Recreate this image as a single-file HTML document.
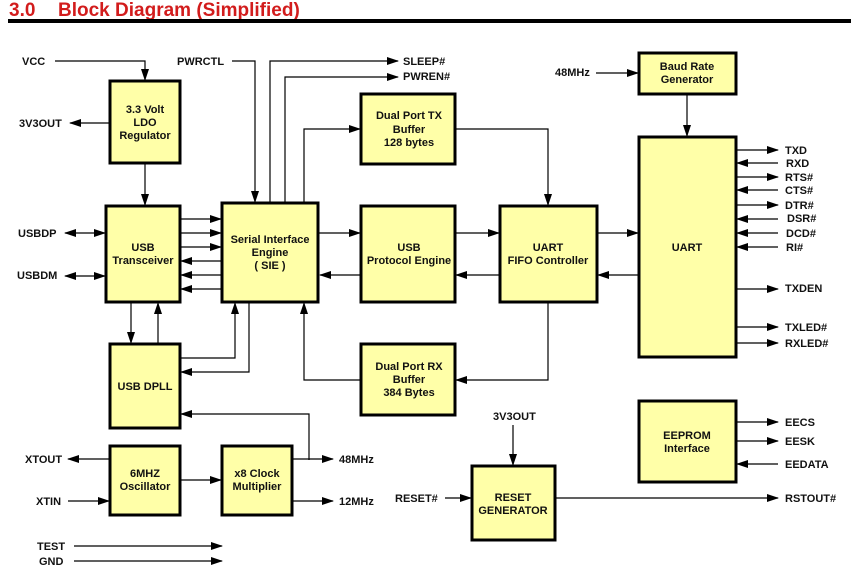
<!DOCTYPE html>
<html><head><meta charset="utf-8"><style>
html,body{margin:0;padding:0;background:#fff;}
svg{display:block;font-family:"Liberation Sans",Arial,sans-serif;}
.b{fill:#ffffa8;stroke:#000;stroke-width:3;}
.l{fill:none;stroke:#000;stroke-width:1.2;}
text{font-size:11px;font-weight:bold;fill:#111;}
.c{text-anchor:middle;}
</style></head><body>
<svg width="866" height="571" viewBox="0 0 866 571" xmlns="http://www.w3.org/2000/svg">
<defs>
<marker id="a" markerUnits="userSpaceOnUse" markerWidth="12" markerHeight="8" refX="11" refY="4" orient="auto"><path d="M0,0 L12,4 L0,8 z" fill="#000"/></marker>
<marker id="s" markerUnits="userSpaceOnUse" markerWidth="12" markerHeight="8" refX="1" refY="4" orient="auto"><path d="M12,0 L0,4 L12,8 z" fill="#000"/></marker>
</defs>
<text x="9" y="16" style="font-size:19px;fill:#d21c1c">3.0</text>
<text x="58" y="16" style="font-size:19px;fill:#d21c1c">Block Diagram (Simplified)</text>
<rect x="8" y="19" width="843" height="4" fill="#000"/>

<rect class="b" x="110" y="81" width="70" height="82"/>
<rect class="b" x="106" y="206" width="74" height="96"/>
<rect class="b" x="222" y="203" width="96" height="99"/>
<rect class="b" x="110" y="344" width="70" height="84"/>
<rect class="b" x="110" y="446" width="70" height="69"/>
<rect class="b" x="222" y="446" width="70" height="69"/>
<rect class="b" x="361" y="94" width="94" height="70"/>
<rect class="b" x="361" y="206" width="94" height="96"/>
<rect class="b" x="361" y="344" width="94" height="71"/>
<rect class="b" x="500" y="206" width="97" height="96"/>
<rect class="b" x="639" y="53" width="97" height="41"/>
<rect class="b" x="639" y="137" width="97" height="220"/>
<rect class="b" x="639" y="401" width="97" height="81"/>
<rect class="b" x="472" y="466" width="83" height="74"/>

<text class="c" x="145" y="113">3.3 Volt</text><text class="c" x="145" y="126">LDO</text><text class="c" x="145" y="139">Regulator</text>
<text class="c" x="143" y="251">USB</text><text class="c" x="143" y="264">Transceiver</text>
<text class="c" x="270" y="243">Serial Interface</text><text class="c" x="270" y="256">Engine</text><text class="c" x="270" y="269">( SIE )</text>
<text class="c" x="145" y="390">USB DPLL</text>
<text class="c" x="145" y="477">6MHZ</text><text class="c" x="145" y="490">Oscillator</text>
<text class="c" x="257" y="477">x8 Clock</text><text class="c" x="257" y="490">Multiplier</text>
<text class="c" x="409" y="119">Dual Port TX</text><text class="c" x="409" y="133">Buffer</text><text class="c" x="409" y="146">128 bytes</text>
<text class="c" x="409" y="251">USB</text><text class="c" x="409" y="264">Protocol Engine</text>
<text class="c" x="409" y="370">Dual Port RX</text><text class="c" x="409" y="383">Buffer</text><text class="c" x="409" y="396">384 Bytes</text>
<text class="c" x="548" y="251">UART</text><text class="c" x="548" y="264">FIFO Controller</text>
<text class="c" x="687" y="70">Baud Rate</text><text class="c" x="687" y="83">Generator</text>
<text class="c" x="687" y="251">UART</text>
<text class="c" x="687" y="439">EEPROM</text><text class="c" x="687" y="452">Interface</text>
<text class="c" x="513" y="501">RESET</text><text class="c" x="513" y="514">GENERATOR</text>

<text x="22" y="65">VCC</text>
<text x="19" y="127">3V3OUT</text>
<text x="177" y="65">PWRCTL</text>
<text x="403" y="65">SLEEP#</text>
<text x="403" y="80">PWREN#</text>
<text x="18" y="237">USBDP</text>
<text x="17" y="279">USBDM</text>
<text x="25" y="463">XTOUT</text>
<text x="36" y="505">XTIN</text>
<text x="37" y="550">TEST</text>
<text x="39" y="565">GND</text>
<text x="339" y="463">48MHz</text>
<text x="339" y="505">12MHz</text>
<text x="555" y="76">48MHz</text>
<text x="395" y="502">RESET#</text>
<text x="493" y="420">3V3OUT</text>
<text x="785" y="502">RSTOUT#</text>
<text x="785" y="154">TXD</text><text x="786" y="167">RXD</text><text x="785" y="181">RTS#</text><text x="785" y="194">CTS#</text>
<text x="785" y="209">DTR#</text><text x="787" y="222">DSR#</text><text x="786" y="237">DCD#</text><text x="786" y="251">RI#</text>
<text x="785" y="292">TXDEN</text><text x="785" y="331">TXLED#</text><text x="785" y="347">RXLED#</text>
<text x="785" y="426">EECS</text><text x="785" y="445">EESK</text><text x="785" y="468">EEDATA</text>

<g class="l">
<path d="M55,61 H145 V80" marker-end="url(#a)"/>
<path d="M109,123 H70" marker-end="url(#a)"/>
<path d="M145,164 V205" marker-end="url(#a)"/>
<path d="M232,61 H255 V202" marker-end="url(#a)"/>
<path d="M270,202 V61 H398" marker-end="url(#a)"/>
<path d="M285,202 V77 H398" marker-end="url(#a)"/>
<path d="M304,202 V129 H360" marker-end="url(#a)"/>
<path d="M65,233 H105" marker-start="url(#s)" marker-end="url(#a)"/>
<path d="M65,276 H105" marker-start="url(#s)" marker-end="url(#a)"/>
<path d="M180,219 H221" marker-end="url(#a)"/>
<path d="M180,233 H221" marker-end="url(#a)"/>
<path d="M180,247 H221" marker-end="url(#a)"/>
<path d="M221,261 H181" marker-end="url(#a)"/>
<path d="M221,275 H181" marker-end="url(#a)"/>
<path d="M221,289 H181" marker-end="url(#a)"/>
<path d="M319,233 H360" marker-end="url(#a)"/>
<path d="M360,275 H320" marker-end="url(#a)"/>
<path d="M455,233 H499" marker-end="url(#a)"/>
<path d="M499,275 H456" marker-end="url(#a)"/>
<path d="M597,233 H638" marker-end="url(#a)"/>
<path d="M638,275 H598" marker-end="url(#a)"/>
<path d="M455,129 H548 V205" marker-end="url(#a)"/>
<path d="M548,302 V380 H456" marker-end="url(#a)"/>
<path d="M360,380 H304 V303" marker-end="url(#a)"/>
<path d="M131,302 V343" marker-end="url(#a)"/>
<path d="M158,343 V303" marker-end="url(#a)"/>
<path d="M180,358 H235 V303" marker-end="url(#a)"/>
<path d="M249,302 V372 H181" marker-end="url(#a)"/>
<path d="M292,459 H333" marker-end="url(#a)"/>
<path d="M309,460 V414 H181" marker-end="url(#a)"/>
<path d="M292,501 H333" marker-end="url(#a)"/>
<path d="M109,459 H68" marker-end="url(#a)"/>
<path d="M68,501 H109" marker-end="url(#a)"/>
<path d="M180,480 H221" marker-end="url(#a)"/>
<path d="M74,546 H222" marker-end="url(#a)"/>
<path d="M74,561 H222" marker-end="url(#a)"/>
<path d="M596,73 H638" marker-end="url(#a)"/>
<path d="M687,94 V136" marker-end="url(#a)"/>
<path d="M513,425 V465" marker-end="url(#a)"/>
<path d="M445,498 H471" marker-end="url(#a)"/>
<path d="M555,498 H778" marker-end="url(#a)"/>
<path d="M736,150 H778" marker-end="url(#a)"/>
<path d="M778,163 H737" marker-end="url(#a)"/>
<path d="M736,177 H778" marker-end="url(#a)"/>
<path d="M778,190 H737" marker-end="url(#a)"/>
<path d="M736,205 H778" marker-end="url(#a)"/>
<path d="M778,219 H737" marker-end="url(#a)"/>
<path d="M778,233 H737" marker-end="url(#a)"/>
<path d="M778,247 H737" marker-end="url(#a)"/>
<path d="M736,289 H778" marker-end="url(#a)"/>
<path d="M736,327 H778" marker-end="url(#a)"/>
<path d="M736,343 H778" marker-end="url(#a)"/>
<path d="M736,422 H778" marker-end="url(#a)"/>
<path d="M736,441 H778" marker-end="url(#a)"/>
<path d="M778,464 H737" marker-end="url(#a)"/>
</g>
</svg>
</body></html>
